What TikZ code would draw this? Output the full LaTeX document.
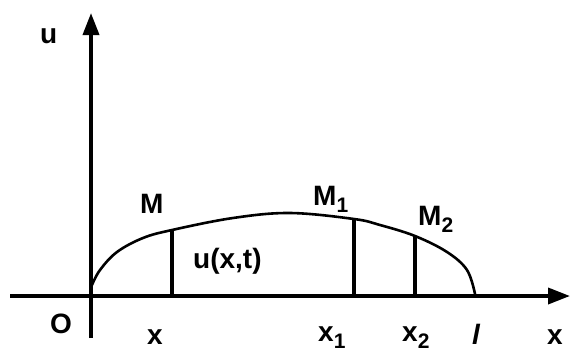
\documentclass[tikz,border=0pt]{standalone}
\usepackage{fontspec}
\setmainfont{Liberation Sans}
\usetikzlibrary{arrows.meta}

\newcommand{\lowsub}[1]{\raisebox{-0.25em}{\fontsize{21}{21}\selectfont #1}}

\tikzset{
    lbl/.style={font=\bfseries\fontsize{28}{28}\selectfont, inner sep=0pt, anchor=base west},
    axis/.style={line width=3.6pt, -{Triangle[length=22pt,width=16pt]}},
    chord/.style={line width=3.2pt}
}

\begin{document}
\begin{tikzpicture}[x=1pt,y=-1pt]
    \useasboundingbox (0,0) rectangle (570,354);

    % Axes
    \coordinate (ubot) at (91,338);
    \coordinate (utop) at (91,13);
    \coordinate (xleft) at (10,296);
    \coordinate (xright) at (570,296);
    \draw[axis] (ubot) -- (utop);
    \draw[axis] (xleft) -- (xright);

    % String profile
    \coordinate (M) at (172,230);
    \coordinate (M1) at (354,219);
    \coordinate (M2) at (415,236);
    \draw[line width=2.6pt] plot[smooth, tension=0.6] coordinates
        {(92,285) (100,270) (117,252) (143,238) (M) (233,218) (290,213)
         (M1) (380,225) (M2) (447,252) (467,270) (475,294)};

    % Ordinates
    \coordinate (xM) at (172,296);
    \coordinate (xM1) at (354,296);
    \coordinate (xM2) at (415,296);
    \draw[chord] (M) -- (xM);
    \draw[chord] (M1) -- (xM1);
    \draw[chord] (M2) -- (xM2);

    % Labels
    \node[lbl] (lu) at (40,43) {u};
    \node[lbl] (lO) at (50,333) {O};
    \node[lbl] (lx) at (147,344) {x};
    \node[lbl] (lM) at (140,213) {M};
    \node[lbl] (luxt) at (193,268) {u(x,t)};
    \node[lbl] (lM1) at (313,205) {M\lowsub{1}};
    \node[lbl] (lM2) at (418,225) {M\lowsub{2}};
    \node[lbl] (lx1) at (318,341) {x\lowsub{1}};
    \node[lbl] (lx2) at (402,341) {x\lowsub{2}};
    \node[lbl] (ll) at (472,344) {\itshape l};
    \node[lbl] (lxaxis) at (547,344) {x};
\end{tikzpicture}
\end{document}
